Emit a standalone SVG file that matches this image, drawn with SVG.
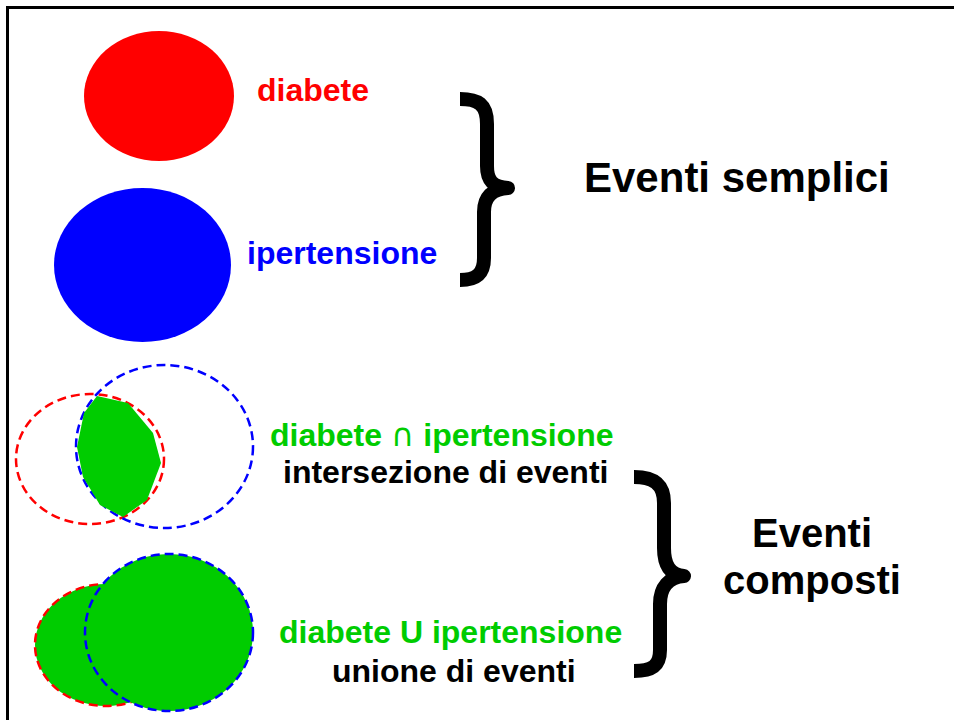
<svg xmlns="http://www.w3.org/2000/svg" width="954" height="720" viewBox="0 0 954 720">
<style>
text{font-family:"Liberation Sans",Arial,sans-serif;font-weight:bold}
.t32{font-size:32px}
.t42{font-size:42px}
.t40{font-size:40px}
.brace{fill:none;stroke:#000;stroke-width:14;stroke-linejoin:round}
.dr{stroke:#FF0000;stroke-width:2.5;stroke-dasharray:9 5}
.db{stroke:#0000FF;stroke-width:2.5;stroke-dasharray:9 5}
</style>
<rect x="0" y="0" width="954" height="720" fill="#fff"/>
<path d="M7.5 730 V7.5 H960" fill="none" stroke="#000" stroke-width="3"/>
<g id="diabete">
<ellipse cx="159" cy="96" rx="75" ry="65" fill="#FF0000"/>
<text class="t32" x="257" y="101" fill="#FF0000">diabete</text>
</g>
<g id="ipertensione">
<ellipse cx="142.5" cy="265" rx="88.5" ry="77" fill="#0000FF"/>
<text class="t32" x="247" y="264" fill="#0000FF">ipertensione</text>
</g>
<g id="brace-semplici">
<path class="brace" d="M460 99 C478 99 487 104 487 124 L487 166 C487 180 492 187 508 188 C492 189 484 197 484 212 L484 258 C484 274 476 280 460 280"/>
<text class="t42" x="584" y="192" fill="#000">Eventi semplici</text>
</g>
<g id="intersezione">
<ellipse class="dr" cx="90" cy="459" rx="74" ry="65" fill="none"/>
<ellipse class="db" cx="164.5" cy="446.5" rx="88.5" ry="81.5" fill="none"/>
<polygon points="97,396 128,403 153,433 161,463 147,500 123,517 100,505 83,477 77,447 84,413" fill="#00CC00"/>
<text class="t32" x="270" y="446" fill="#00CC00">diabete <tspan font-family="'DejaVu Sans',sans-serif" font-weight="normal">∩</tspan> ipertensione</text>
<text class="t32" x="283" y="483" fill="#000">intersezione di eventi</text>
</g>
<g id="unione">
<ellipse class="dr" cx="106" cy="645" rx="71" ry="61" fill="#00CC00"/>
<ellipse class="db" cx="169" cy="632.5" rx="84" ry="78.5" fill="#00CC00"/>
<text class="t32" x="279" y="643" fill="#00CC00">diabete U ipertensione</text>
<text class="t32" x="332" y="682" fill="#000">unione di eventi</text>
</g>
<g id="brace-composti">
<path class="brace" d="M634 477 C652 477 664 483 664 503 L664 548 C664 565 670 575 684 576 C669 577 660 587 660 604 L660 650 C660 666 652 671 634 671"/>
<text class="t40" x="812" y="547" text-anchor="middle" fill="#000">Eventi</text>
<text class="t40" x="812" y="594" text-anchor="middle" fill="#000">composti</text>
</g>
</svg>
